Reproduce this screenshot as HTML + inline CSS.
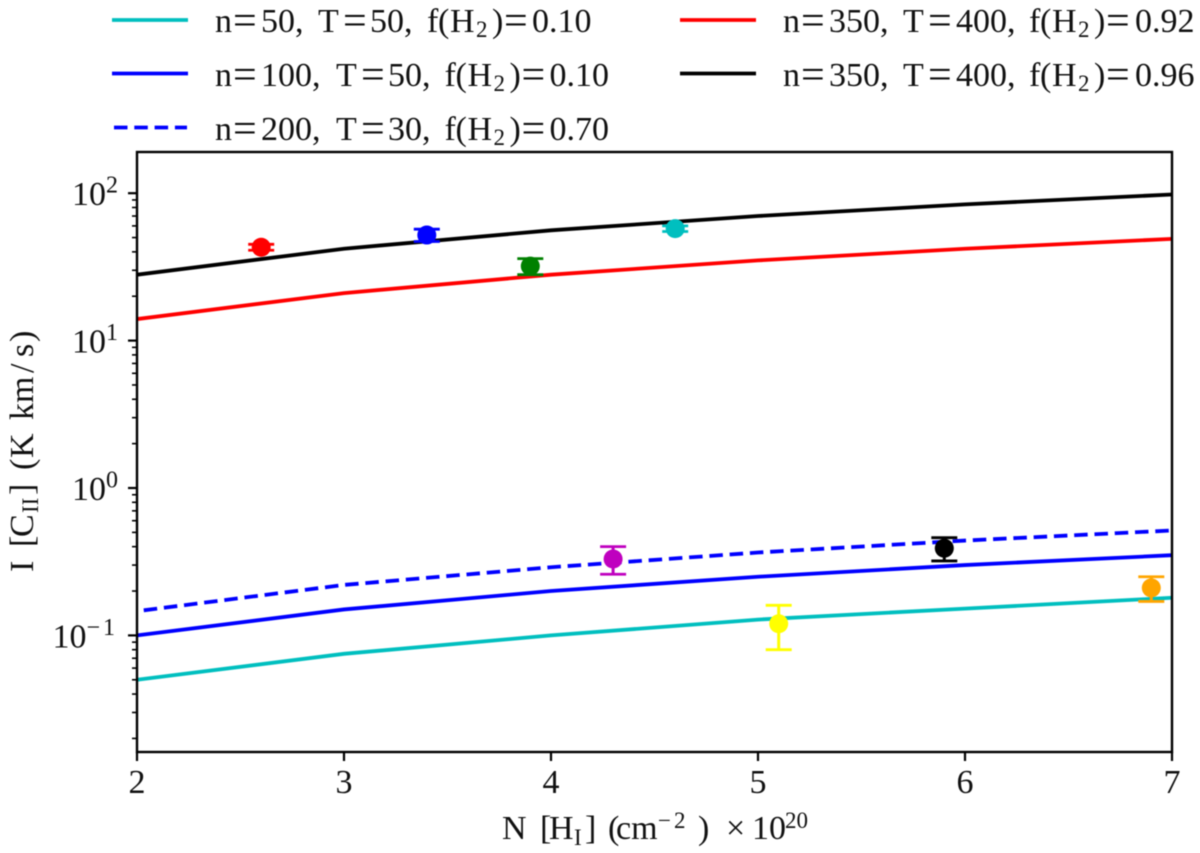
<!DOCTYPE html>
<html lang="en">
<head>
<meta charset="utf-8">
<title>C II intensity vs H I column density</title>
<style>
html,body{margin:0;padding:0;background:#fff;}
svg{display:block;filter:blur(0.4px);}
text{font-family:"Liberation Serif","DejaVu Serif",serif;fill:#111;}
.leg,.ttl,.tick{font-size:34px;}
.s{font-size:23px;}
.e{font-size:42px;}
</style>
</head>
<body>
<svg id="chart" xmlns="http://www.w3.org/2000/svg" width="1200" height="853" viewBox="0 0 1200 853">
  <g id="legend">
    <line x1="112" x2="188" y1="20" y2="20" stroke="#00bfbf" stroke-width="3.8"/>
    <text class="leg" y="32"><tspan x="215">n</tspan><tspan class="e" x="233" y="34.5">=</tspan><tspan x="261" y="32">50, </tspan><tspan x="318">T</tspan><tspan class="e" x="343" y="34.5">=</tspan><tspan x="370" y="32">50, </tspan><tspan x="427">f</tspan><tspan x="438">(</tspan><tspan x="450">H</tspan><tspan class="s" x="476" y="37">2</tspan><tspan x="492" y="32">)</tspan><tspan class="e" x="504" y="34.5">=</tspan><tspan x="532" y="32">0.10</tspan></text>
    <line x1="112" x2="188" y1="73.5" y2="73.5" stroke="#0000ff" stroke-width="3.8"/>
    <text class="leg" y="86"><tspan x="215">n</tspan><tspan class="e" x="233" y="88.5">=</tspan><tspan x="261" y="86">100, </tspan><tspan x="336">T</tspan><tspan class="e" x="361" y="88.5">=</tspan><tspan x="388" y="86">50, </tspan><tspan x="444.5">f</tspan><tspan x="455.5">(</tspan><tspan x="467.5">H</tspan><tspan class="s" x="493.5" y="91">2</tspan><tspan x="509.5" y="86">)</tspan><tspan class="e" x="521.5" y="88.5">=</tspan><tspan x="549.5" y="86">0.10</tspan></text>
    <line x1="114" x2="187" y1="127.5" y2="127.5" stroke="#0000ff" stroke-width="3.8" stroke-dasharray="13.5 6.8"/>
    <text class="leg" y="140"><tspan x="215">n</tspan><tspan class="e" x="233" y="142.5">=</tspan><tspan x="261" y="140">200, </tspan><tspan x="336">T</tspan><tspan class="e" x="361" y="142.5">=</tspan><tspan x="388" y="140">30, </tspan><tspan x="444.5">f</tspan><tspan x="455.5">(</tspan><tspan x="467.5">H</tspan><tspan class="s" x="493.5" y="145">2</tspan><tspan x="509.5" y="140">)</tspan><tspan class="e" x="521.5" y="142.5">=</tspan><tspan x="549.5" y="140">0.70</tspan></text>
    <line x1="680" x2="756" y1="20" y2="20" stroke="#ff0000" stroke-width="3.8"/>
    <text class="leg" y="32"><tspan x="783">n</tspan><tspan class="e" x="801" y="34.5">=</tspan><tspan x="829" y="32">350, </tspan><tspan x="903">T</tspan><tspan class="e" x="928" y="34.5">=</tspan><tspan x="956" y="32">400, </tspan><tspan x="1029">f</tspan><tspan x="1040">(</tspan><tspan x="1052">H</tspan><tspan class="s" x="1078" y="37">2</tspan><tspan x="1094" y="32">)</tspan><tspan class="e" x="1106" y="34.5">=</tspan><tspan x="1135" y="32">0.92</tspan></text>
    <line x1="680" x2="756" y1="73.5" y2="73.5" stroke="#000" stroke-width="3.8"/>
    <text class="leg" y="86"><tspan x="783">n</tspan><tspan class="e" x="801" y="88.5">=</tspan><tspan x="829" y="86">350, </tspan><tspan x="903">T</tspan><tspan class="e" x="928" y="88.5">=</tspan><tspan x="956" y="86">400, </tspan><tspan x="1029">f</tspan><tspan x="1040">(</tspan><tspan x="1052">H</tspan><tspan class="s" x="1078" y="91">2</tspan><tspan x="1094" y="86">)</tspan><tspan class="e" x="1106" y="88.5">=</tspan><tspan x="1135" y="86">0.96</tspan></text>
  </g>
  <g id="plot"></g>
  <text class="ttl" y="839"><tspan x="502">N </tspan><tspan x="540">[</tspan><tspan x="549">H</tspan><tspan class="s" x="574" y="845">I</tspan><tspan x="585" y="839">] </tspan><tspan x="608">(</tspan><tspan x="616">cm</tspan><tspan class="s" x="658" y="828" letter-spacing="3">−2</tspan><tspan x="698" y="839">) </tspan><tspan x="726">×</tspan><tspan x="752">10</tspan><tspan class="s" x="785" y="828">20</tspan></text>
  <text class="ttl" transform="translate(33,572) rotate(-90)" y="0"><tspan x="0">I </tspan><tspan x="25">[</tspan><tspan x="35">C</tspan><tspan class="s" x="59" y="5">II</tspan><tspan x="77" y="0">] </tspan><tspan x="102">(</tspan><tspan x="114">K </tspan><tspan x="152">km</tspan><tspan x="199">/</tspan><tspan x="215">s</tspan><tspan x="230">)</tspan></text>
</svg>
<script>
const xValues = [2, 3, 4, 5, 6, 7];
const seriesCyan = [0.05, 0.075, 0.1, 0.128, 0.152, 0.18];
const seriesBlue = [0.1, 0.15, 0.2, 0.25, 0.3, 0.35];
const seriesBlueDashed = [0.146, 0.22, 0.29, 0.365, 0.44, 0.515];
const seriesRed = [14, 21, 28, 35, 42, 49];
const seriesBlack = [28, 42, 56, 70, 84, 98];
const pointX = [2.6, 3.4, 3.9, 4.6, 4.3, 5.1, 5.9, 6.9];
const pointY = [43, 52, 32, 57.5, 0.33, 0.12, 0.39, 0.21];
const pointErr = [2, 5, 4, 2.5, 0.07, 0.04, 0.07, 0.04];
const pointColors = ["#ff0000", "#0000ff", "#008000", "#00bfbf", "#bf00bf", "#ffff00", "#000000", "#ffa500"];
const xTicks = [2, 3, 4, 5, 6, 7];
const yExponents = [2, 1, 0, -1];
const yExponentLabels = ["2", "1", "0", "−1"];

const NS = "http://www.w3.org/2000/svg";
const plot = document.getElementById("plot");
const L = 137, R = 1172, T = 152, B = 752;
const xMin = 2, xMax = 7;
const y0 = 488, decade = 147.4;
function sx(v) { return L + (v - xMin) / (xMax - xMin) * (R - L); }
function sy(v) { return y0 - decade * Math.log10(v); }
function el(tag, attrs, parent) {
  const e = document.createElementNS(NS, tag);
  for (const k in attrs) e.setAttribute(k, attrs[k]);
  (parent || plot).appendChild(e);
  return e;
}

const clip = el("clipPath", { id: "plot-clip" });
el("rect", { x: L, y: T, width: R - L, height: B - T }, clip);

function drawLine(values, color, name, dashed) {
  const pts = xValues.map((x, i) => sx(x) + "," + sy(values[i])).join(" ");
  const line = el("polyline", { points: pts, fill: "none", stroke: color, "stroke-width": 3.8, "clip-path": "url(#plot-clip)" });
  
  
  if (dashed) {
    line.setAttribute("stroke-dasharray", "13.5 6.8");
    line.setAttribute("stroke-dashoffset", "13.5");
  }
}
drawLine(seriesCyan, "#00bfbf", "line-cyan", false);
drawLine(seriesBlue, "#0000ff", "line-blue", false);
drawLine(seriesBlueDashed, "#0000ff", "line-blue-dashed", true);
drawLine(seriesRed, "#ff0000", "line-red", false);
drawLine(seriesBlack, "#000000", "line-black", false);

pointX.forEach((x, i) => {
  const g = el("g", {});
  
  
  const c = pointColors[i], px = sx(x);
  const top = sy(pointY[i] + pointErr[i]), bot = sy(pointY[i] - pointErr[i]);
  el("line", { x1: px, x2: px, y1: top, y2: bot, stroke: c, "stroke-width": 3 }, g);
  el("line", { x1: px - 13, x2: px + 13, y1: top, y2: top, stroke: c, "stroke-width": 2.8 }, g);
  el("line", { x1: px - 13, x2: px + 13, y1: bot, y2: bot, stroke: c, "stroke-width": 2.8 }, g);
  el("circle", { cx: px, cy: sy(pointY[i]), r: 9.5, fill: c }, g);
});

const frame = el("rect", { x: L, y: T, width: R - L, height: B - T, fill: "none", stroke: "#000", "stroke-width": 2.4 });



xTicks.forEach(v => {
  const t = el("line", { x1: sx(v), x2: sx(v), y1: B, y2: B + 9, stroke: "#000", "stroke-width": 2.2 });
  
  
  const lab = el("text", { x: sx(v), y: 793, "text-anchor": "middle", class: "tick" });
  
  
  lab.textContent = v;
});

yExponents.forEach((e, i) => {
  const base = Math.pow(10, e);
  const t = el("line", { x1: L - 9, x2: L, y1: sy(base), y2: sy(base), stroke: "#000", "stroke-width": 2.2 });
  
  
  const lab = el("text", { x: 118, y: sy(base) + 12, "text-anchor": "end", class: "tick" });
  
  
  lab.appendChild(document.createTextNode("10"));
  const sup = el("tspan", { "font-size": 24, dy: -12.5 }, lab);
  if (yExponentLabels[i].length > 1) sup.setAttribute("letter-spacing", "3");
  sup.textContent = yExponentLabels[i];
});

[-2, -1, 0, 1, 2].forEach(e => {
  for (let m = 2; m <= 9; m++) {
    const v = m * Math.pow(10, e), y = sy(v);
    if (y < T || y > B) continue;
    const t = el("line", { x1: L - 5, x2: L, y1: y, y2: y, stroke: "#000", "stroke-width": 1.6 });
    
    
  }
});
</script>
</body>
</html>
